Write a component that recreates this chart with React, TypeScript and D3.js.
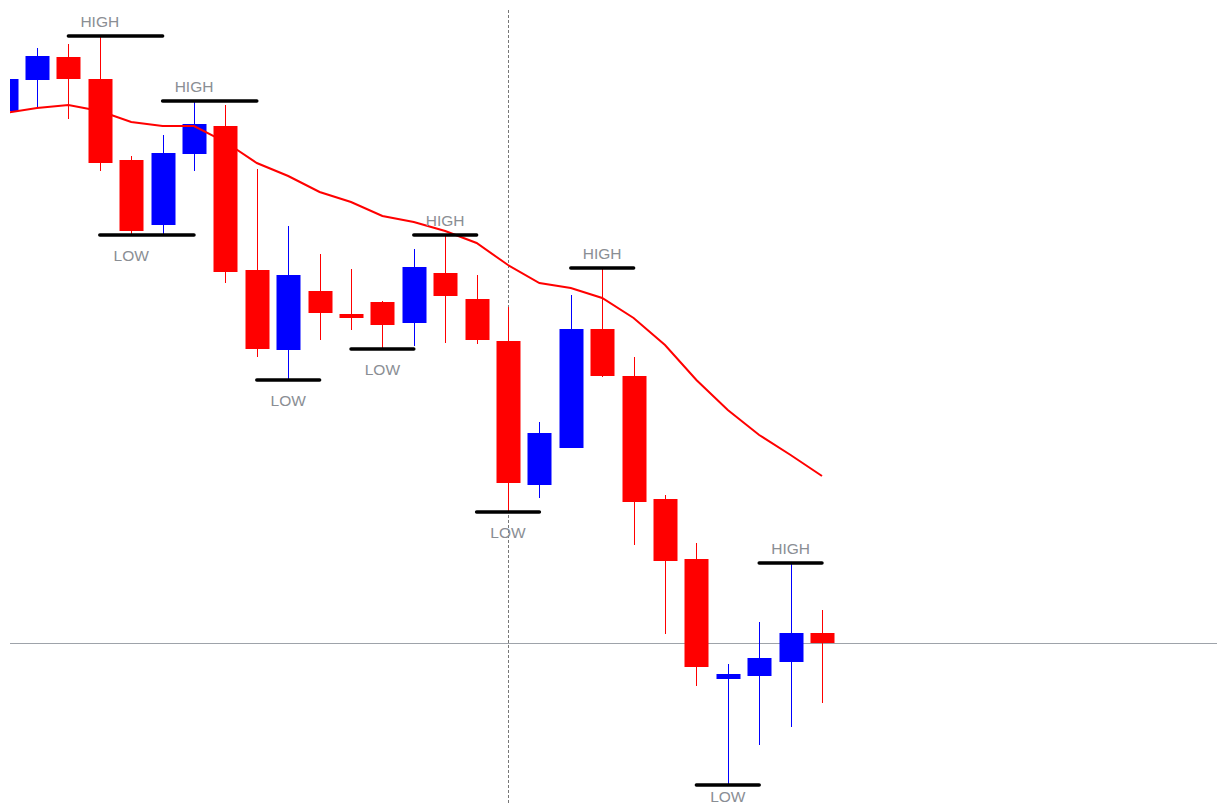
import { useEffect, useRef } from "react";
import * as d3 from "d3";

// OHLC values (arbitrary price units, higher = up)
const OPEN  = [889, 920, 943, 921, 840, 775, 846, 874, 730, 650, 709, 686, 698, 677, 727, 701, 659, 515, 552, 671, 624, 501, 441, 321, 324, 338, 367];
const HIGH  = [930, 952, 956, 964, 844, 865, 899, 895, 831, 774, 746, 731, 699, 751, 765, 725, 693, 578, 705, 732, 643, 505, 457, 336, 378, 437, 390];
const LOW   = [882, 893, 881, 829, 765, 766, 829, 717, 643, 620, 660, 670, 651, 654, 657, 656, 488, 502, 552, 623, 455, 366, 314, 215, 255, 273, 297];
const CLOSE = [921, 944, 921, 837, 769, 847, 876, 728, 651, 725, 687, 682, 675, 733, 704, 660, 517, 567, 671, 624, 498, 439, 333, 326, 342, 367, 357];

// moving average, one point per candle
const MA = [887, 892, 895, 889, 878, 874, 874, 858, 837, 824, 808, 798, 784, 778, 769, 757, 735, 717, 712, 702, 682, 655, 620, 590, 565, 545, 524];

// swing markers: candle index, kind, span of the bar in candle indices
const MARK_AT   = [3, 6, 4, 9, 12, 14, 16, 19, 23, 25];
const MARK_KIND = ["HIGH", "HIGH", "LOW", "LOW", "LOW", "HIGH", "LOW", "HIGH", "LOW", "HIGH"];
const MARK_FROM = [2, 5, 3, 8, 11, 13, 15, 18, 22, 24];
const MARK_TO   = [5, 8, 6, 10, 13, 15, 17, 20, 24, 26];

const CURSOR_INDEX = 16;      // dotted vertical line
const LAST_PRICE = CLOSE[CLOSE.length - 1];

const W = 1217;
const H = 804;
const CLIP = { left: 10, top: 10 };

export default function App() {
  const svgRef = useRef<SVGSVGElement>(null);

  useEffect(() => {
    const svgEl = svgRef.current;
    if (!svgEl) return;
    const svg = d3.select(svgEl);
    svg.selectAll("*").remove();

    const n = OPEN.length;
    const x = d3.scaleLinear().domain([0, n - 1]).range([5.6, 822]);
    const y = d3.scaleLinear().domain([196, 1000]).range([H, 0]);
    const bodyW = 24;

    svg.append("defs").append("clipPath").attr("id", "plot-clip")
      .append("rect")
      .attr("x", CLIP.left).attr("y", CLIP.top)
      .attr("width", W - CLIP.left).attr("height", H - CLIP.top);

    const root = svg.append("g").attr("clip-path", "url(#plot-clip)");

    // ── last price line ────────────────────────────────────────────────
    root.append("line")
      .attr("x1", CLIP.left).attr("x2", W)
      .attr("y1", Math.round(y(LAST_PRICE)) + 0.5).attr("y2", Math.round(y(LAST_PRICE)) + 0.5)
      .attr("stroke", "#9ea3aa").attr("stroke-width", 1);

    // ── cursor line ────────────────────────────────────────────────────
    root.append("line")
      .attr("x1", Math.round(x(CURSOR_INDEX)) + 0.5).attr("x2", Math.round(x(CURSOR_INDEX)) + 0.5)
      .attr("y1", CLIP.top).attr("y2", H)
      .attr("stroke", "#777").attr("stroke-width", 1).attr("stroke-dasharray", "3,2");

    // ── candles ────────────────────────────────────────────────────────
    const idx = d3.range(n);
    const color = (i: number) => (CLOSE[i] >= OPEN[i] ? "#0000ff" : "#ff0000");

    const candle = root.selectAll("g.candle").data(idx).join("g").attr("class", "candle");
    candle.append("line")
      .attr("x1", (i) => Math.round(x(i)) + 0.5).attr("x2", (i) => Math.round(x(i)) + 0.5)
      .attr("y1", (i) => y(HIGH[i])).attr("y2", (i) => y(LOW[i]))
      .attr("stroke", color).attr("stroke-width", 1);
    candle.append("rect")
      .attr("x", (i) => Math.round(x(i)) + 0.5 - bodyW / 2)
      .attr("width", bodyW)
      .attr("y", (i) => y(Math.max(OPEN[i], CLOSE[i])))
      .attr("height", (i) => Math.max(4, Math.abs(y(OPEN[i]) - y(CLOSE[i]))))
      .attr("fill", color);

    // ── moving average ─────────────────────────────────────────────────
    const line = d3.line<number>().x((i) => x(i)).y((i) => y(MA[i]));
    root.append("path")
      .attr("d", line(idx))
      .attr("fill", "none").attr("stroke", "#ff0000").attr("stroke-width", 2);

    // ── HIGH / LOW markers ─────────────────────────────────────────────
    MARK_AT.forEach((at, k) => {
      const isHigh = MARK_KIND[k] === "HIGH";
      const py = y(isHigh ? HIGH[at] : LOW[at]);
      root.append("line")
        .attr("x1", x(MARK_FROM[k])).attr("x2", x(MARK_TO[k]))
        .attr("y1", py).attr("y2", py)
        .attr("stroke", "#000").attr("stroke-width", 3.5).attr("stroke-linecap", "round");
      // labels under the bottom edge get pushed back inside the window
      const ty = isHigh ? py - 9 : Math.min(py + 26, H - 2);
      svg.append("text")
        .attr("x", x(at))
        .attr("y", ty)
        .attr("text-anchor", "middle")
        .attr("font-family", "'Liberation Sans', Arial, sans-serif")
        .attr("font-size", 15.5)
        .attr("fill", "#8a8e94")
        .text(MARK_KIND[k]);
    });
  }, []);

  return (
    <svg
      ref={svgRef}
      width={W}
      height={H}
      style={{ position: "fixed", left: 0, top: 0, background: "#fff", display: "block" }}
    />
  );
}
